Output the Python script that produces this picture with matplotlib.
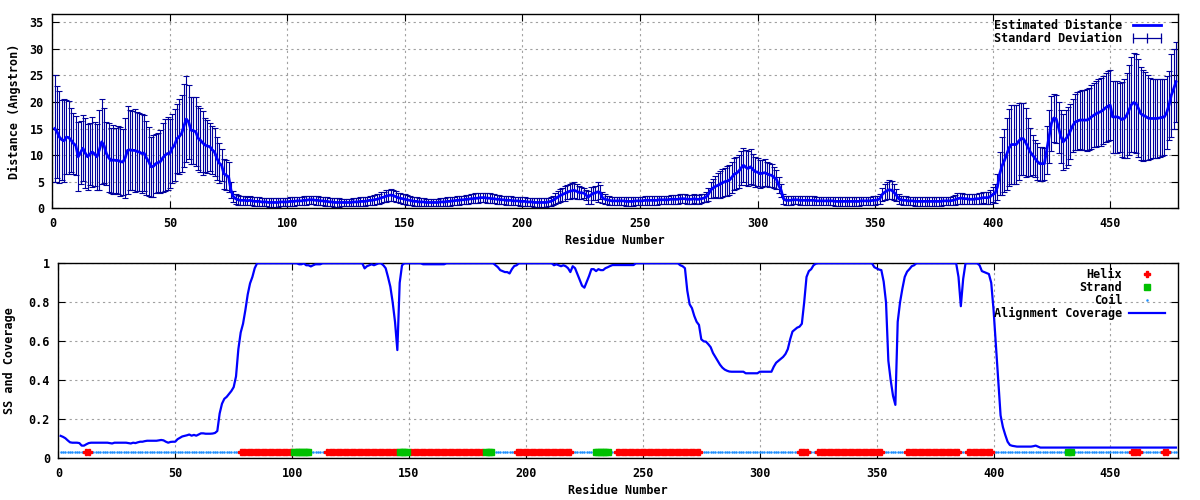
import numpy as np
import matplotlib
matplotlib.use("Agg")
import matplotlib.pyplot as plt
from matplotlib.lines import Line2D

# estimated distance per residue (1..478)
distance = [
    15.0, 14.4, 13.4, 12.9, 12.7, 13.4, 13.3, 12.8, 12.2, 11.8,
    9.7, 10.5, 11.3, 10.4, 9.7, 10.2, 10.6, 10.2, 9.7, 11.0,
    12.5, 11.8, 10.3, 9.5, 9.0, 9.1, 9.0, 9.0, 8.8, 8.7,
    9.5, 10.9, 11.0, 10.9, 10.9, 10.7, 10.6, 10.3, 10.4, 9.5,
    8.8, 7.8, 7.9, 8.4, 8.6, 8.8, 9.5, 10.0, 10.3, 10.3,
    11.3, 11.9, 13.1, 13.5, 14.1, 15.5, 16.8, 16.2, 14.7, 14.6,
    14.4, 13.2, 12.8, 12.3, 11.9, 11.7, 11.6, 11.0, 10.6, 9.4,
    8.5, 8.1, 6.5, 6.2, 5.9, 3.4, 2.2, 1.8, 1.6, 1.5,
    1.5, 1.5, 1.4, 1.5, 1.4, 1.3, 1.3, 1.3, 1.2, 1.2,
    1.2, 1.1, 1.1, 1.1, 1.1, 1.1, 1.2, 1.2, 1.2, 1.2,
    1.3, 1.3, 1.3, 1.4, 1.4, 1.4, 1.5, 1.5, 1.6, 1.6,
    1.6, 1.5, 1.5, 1.4, 1.4, 1.3, 1.3, 1.2, 1.2, 1.1,
    1.1, 1.1, 1.1, 1.1, 1.1, 1.1, 1.1, 1.2, 1.2, 1.2,
    1.3, 1.3, 1.3, 1.4, 1.5, 1.5, 1.6, 1.7, 1.8, 2.0,
    2.1, 2.3, 2.4, 2.5, 2.4, 2.2, 2.0, 1.9, 1.8, 1.7,
    1.6, 1.5, 1.4, 1.3, 1.3, 1.2, 1.2, 1.2, 1.1, 1.1,
    1.1, 1.1, 1.1, 1.1, 1.2, 1.2, 1.2, 1.3, 1.3, 1.4,
    1.4, 1.5, 1.5, 1.6, 1.6, 1.7, 1.7, 1.8, 1.8, 1.9,
    1.9, 2.0, 2.0, 2.0, 1.9, 1.9, 1.8, 1.8, 1.7, 1.7,
    1.6, 1.6, 1.5, 1.5, 1.5, 1.4, 1.4, 1.4, 1.3, 1.3,
    1.3, 1.2, 1.2, 1.2, 1.1, 1.1, 1.1, 1.1, 1.1, 1.1,
    1.2, 1.3, 1.5, 1.8, 2.1, 2.4, 2.6, 2.8, 3.0, 3.2,
    3.3, 3.4, 3.2, 3.0, 2.9, 2.9, 2.5, 2.1, 2.5, 2.8,
    2.9, 3.1, 3.0, 2.0, 1.7, 1.6, 1.5, 1.4, 1.4, 1.4,
    1.4, 1.4, 1.4, 1.3, 1.3, 1.3, 1.3, 1.4, 1.4, 1.4,
    1.4, 1.5, 1.5, 1.5, 1.5, 1.5, 1.5, 1.6, 1.6, 1.6,
    1.6, 1.6, 1.7, 1.7, 1.7, 1.7, 1.8, 1.8, 1.8, 1.7,
    1.7, 1.7, 1.8, 1.7, 1.7, 1.8, 1.9, 2.1, 2.6, 3.4,
    3.8, 4.1, 4.3, 4.5, 4.8, 5.0, 5.1, 5.3, 5.8, 6.4,
    6.6, 7.0, 7.6, 8.1, 7.7, 7.5, 7.8, 7.3, 6.9, 6.8,
    6.5, 6.6, 6.7, 6.5, 6.3, 6.2, 5.8, 5.5, 4.3, 3.4,
    1.8, 1.5, 1.5, 1.5, 1.6, 1.6, 1.6, 1.5, 1.5, 1.5,
    1.5, 1.5, 1.5, 1.5, 1.4, 1.4, 1.4, 1.4, 1.4, 1.4,
    1.4, 1.4, 1.3, 1.3, 1.3, 1.3, 1.3, 1.3, 1.3, 1.3,
    1.3, 1.3, 1.3, 1.4, 1.4, 1.4, 1.4, 1.4, 1.5, 1.5,
    1.6, 1.8, 2.6, 3.0, 3.3, 3.5, 3.4, 3.0, 2.5, 1.8,
    1.6, 1.5, 1.5, 1.4, 1.4, 1.4, 1.3, 1.3, 1.3, 1.3,
    1.3, 1.3, 1.3, 1.3, 1.3, 1.3, 1.3, 1.3, 1.4, 1.4,
    1.4, 1.4, 1.5, 1.6, 1.8, 1.9, 1.9, 1.8, 1.8, 1.7,
    1.7, 1.7, 1.8, 1.8, 1.9, 2.0, 2.0, 2.0, 2.2, 2.6,
    2.8, 4.0, 6.5, 8.0, 9.0, 10.2, 11.4, 12.0, 12.0, 12.0,
    12.6, 13.1, 13.1, 12.4, 11.5, 10.6, 10.0, 9.4, 8.8, 8.4,
    8.4, 8.4, 11.0, 13.5, 16.0, 17.0, 16.8, 15.2, 13.5, 12.5,
    13.0, 13.6, 14.5, 15.5, 16.2, 16.4, 16.6, 16.6, 16.6, 16.6,
    16.8, 17.2, 17.5, 17.8, 18.0, 18.2, 18.5, 18.9, 19.2, 19.4,
    17.2, 17.2, 17.2, 17.0, 16.7, 16.9, 17.5, 18.5, 19.5, 19.9,
    19.7, 18.8, 17.8, 17.5, 17.3, 17.0, 16.9, 16.9, 16.9, 16.9,
    17.0, 17.1, 17.2, 18.0, 19.4, 21.3, 22.5, 23.8,
]

# standard deviation per residue
std_dev = [
    10.0, 8.7, 8.7, 7.5, 7.8, 7.0, 6.8, 6.0, 5.8, 5.5,
    6.5, 6.0, 6.2, 6.5, 6.2, 5.8, 6.5, 6.0, 6.2, 7.5,
    8.0, 7.0, 6.0, 6.5, 6.2, 6.5, 6.2, 6.4, 6.5, 6.2,
    7.5, 8.3, 7.5, 7.5, 7.8, 7.4, 7.3, 7.5, 7.2, 7.0,
    6.5, 5.7, 5.8, 5.5, 5.5, 6.0, 6.5, 6.8, 6.8, 6.5,
    6.5, 6.7, 6.5, 7.0, 7.2, 7.8, 8.0, 7.0, 6.3, 6.3,
    6.5, 6.0, 6.0, 6.0, 5.0, 5.0, 4.5, 4.5, 4.5, 4.0,
    3.8, 3.0, 2.8, 2.8, 2.8, 1.5, 1.0, 0.9, 0.9, 0.9,
    0.9, 0.9, 0.8, 0.9, 0.8, 0.8, 0.8, 0.8, 0.8, 0.8,
    0.8, 0.8, 0.8, 0.8, 0.8, 0.8, 0.8, 0.8, 0.8, 0.8,
    0.8, 0.8, 0.8, 0.8, 0.8, 0.8, 0.8, 0.8, 0.8, 0.8,
    0.8, 0.8, 0.8, 0.8, 0.8, 0.8, 0.8, 0.8, 0.8, 0.8,
    0.8, 0.8, 0.7, 0.7, 0.7, 0.7, 0.7, 0.7, 0.8, 0.8,
    0.8, 0.8, 0.8, 0.8, 0.8, 0.8, 0.9, 0.9, 0.9, 1.0,
    1.0, 1.1, 1.1, 1.1, 1.0, 1.0, 0.9, 0.9, 0.9, 0.9,
    0.9, 0.8, 0.8, 0.8, 0.8, 0.8, 0.7, 0.7, 0.7, 0.7,
    0.7, 0.7, 0.7, 0.7, 0.7, 0.7, 0.7, 0.8, 0.8, 0.8,
    0.8, 0.8, 0.8, 0.8, 0.8, 0.8, 0.8, 0.8, 0.8, 0.9,
    0.9, 0.9, 0.9, 0.9, 0.9, 0.9, 0.8, 0.8, 0.8, 0.8,
    0.8, 0.8, 0.8, 0.8, 0.8, 0.8, 0.8, 0.8, 0.8, 0.8,
    0.8, 0.8, 0.8, 0.8, 0.8, 0.8, 0.8, 0.8, 0.8, 0.8,
    0.8, 0.8, 0.9, 1.0, 1.1, 1.2, 1.3, 1.4, 1.3, 1.4,
    1.4, 1.5, 1.4, 1.2, 1.2, 1.0, 1.0, 1.2, 1.6, 1.3,
    1.3, 1.9, 1.3, 1.0, 0.9, 0.8, 0.8, 0.8, 0.8, 0.8,
    0.8, 0.8, 0.8, 0.8, 0.8, 0.8, 0.8, 0.8, 0.8, 0.8,
    0.8, 0.8, 0.8, 0.8, 0.8, 0.8, 0.8, 0.8, 0.8, 0.8,
    0.8, 0.8, 0.8, 0.8, 0.8, 0.8, 0.8, 0.8, 0.8, 0.8,
    0.8, 0.8, 0.8, 0.8, 0.8, 0.8, 0.8, 0.9, 1.2, 1.5,
    1.8, 2.0, 2.3, 2.5, 2.6, 2.6, 2.8, 2.8, 2.9, 3.0,
    3.0, 3.1, 3.2, 3.2, 3.3, 3.3, 3.3, 3.0, 2.8, 2.6,
    2.6, 2.5, 2.5, 2.3, 2.2, 2.2, 2.0, 1.8, 1.5, 1.2,
    0.9, 0.8, 0.8, 0.8, 0.8, 0.8, 0.8, 0.8, 0.8, 0.8,
    0.8, 0.8, 0.8, 0.8, 0.8, 0.8, 0.8, 0.8, 0.8, 0.8,
    0.8, 0.8, 0.8, 0.8, 0.8, 0.8, 0.8, 0.8, 0.8, 0.8,
    0.8, 0.8, 0.8, 0.8, 0.8, 0.8, 0.8, 0.8, 0.8, 0.8,
    0.8, 0.9, 1.2, 1.5, 1.6, 1.8, 1.7, 1.5, 1.2, 0.9,
    0.8, 0.8, 0.8, 0.8, 0.8, 0.8, 0.8, 0.8, 0.8, 0.8,
    0.8, 0.8, 0.8, 0.8, 0.8, 0.8, 0.8, 0.8, 0.8, 0.8,
    0.8, 0.8, 0.9, 0.9, 1.0, 1.0, 1.0, 0.9, 0.9, 0.9,
    0.9, 0.9, 0.9, 1.0, 1.0, 1.0, 1.1, 1.1, 1.3, 1.5,
    1.8, 2.5, 4.0, 5.5, 6.0, 6.8, 7.2, 7.5, 7.4, 7.5,
    7.2, 6.8, 6.8, 6.5, 5.5, 4.5, 3.8, 3.5, 3.5, 3.2,
    3.2, 3.0, 4.5, 5.0, 5.2, 4.5, 4.5, 4.8, 5.0, 5.3,
    5.5, 5.5, 5.2, 5.0, 5.3, 5.4, 5.5, 5.6, 5.6, 5.8,
    5.8, 6.0, 6.0, 6.2, 6.3, 6.4, 6.4, 6.5, 6.6, 6.6,
    6.8, 6.8, 6.8, 6.5, 7.0, 7.5, 8.0, 8.5, 9.0, 9.3,
    9.3, 9.2, 8.8, 8.6, 8.3, 8.0, 7.7, 7.5, 7.5, 7.5,
    7.4, 7.3, 7.2, 6.8, 6.5, 7.8, 7.5, 7.5,
]

# alignment coverage per residue
coverage = [
    0.115, 0.110, 0.103, 0.092, 0.082, 0.080, 0.080, 0.080, 0.078, 0.065,
    0.065, 0.072, 0.078, 0.080, 0.080, 0.080, 0.080, 0.080, 0.080, 0.080,
    0.080, 0.078, 0.076, 0.080, 0.080, 0.080, 0.080, 0.080, 0.080, 0.078,
    0.076, 0.080, 0.078, 0.082, 0.085, 0.085, 0.088, 0.090, 0.090, 0.090,
    0.090, 0.090, 0.092, 0.094, 0.092, 0.085, 0.080, 0.084, 0.085, 0.085,
    0.098, 0.105, 0.112, 0.115, 0.118, 0.122, 0.116, 0.120, 0.116, 0.122,
    0.128, 0.128, 0.126, 0.126, 0.126, 0.127, 0.130, 0.140, 0.230, 0.280,
    0.305, 0.315, 0.330, 0.345, 0.365, 0.420, 0.560, 0.645, 0.690, 0.760,
    0.840, 0.897, 0.930, 0.975, 1.000, 1.000, 1.000, 1.000, 1.000, 1.000,
    1.000, 1.000, 1.000, 1.000, 1.000, 1.000, 1.000, 1.000, 1.000, 1.000,
    1.000, 1.000, 0.995, 0.995, 1.000, 0.990, 0.990, 0.984, 0.990, 0.995,
    0.995, 0.995, 1.000, 1.000, 1.000, 1.000, 1.000, 1.000, 1.000, 1.000,
    1.000, 1.000, 1.000, 1.000, 1.000, 1.000, 1.000, 1.000, 1.000, 1.000,
    0.974, 0.985, 0.990, 0.995, 0.990, 0.995, 1.000, 1.000, 0.990, 0.975,
    0.930, 0.880, 0.800, 0.700, 0.555, 0.900, 0.990, 1.000, 1.000, 1.000,
    1.000, 1.000, 1.000, 1.000, 1.000, 0.995, 0.995, 0.995, 0.995, 0.995,
    0.995, 0.995, 0.995, 0.995, 0.995, 1.000, 1.000, 1.000, 1.000, 1.000,
    1.000, 1.000, 1.000, 1.000, 1.000, 1.000, 1.000, 1.000, 1.000, 1.000,
    1.000, 1.000, 1.000, 1.000, 1.000, 1.000, 0.990, 0.980, 0.965, 0.960,
    0.955, 0.955, 0.948, 0.970, 0.986, 0.990, 1.000, 1.000, 1.000, 1.000,
    1.000, 1.000, 1.000, 1.000, 1.000, 1.000, 1.000, 1.000, 1.000, 1.000,
    1.000, 0.990, 0.995, 0.990, 0.985, 0.990, 0.985, 0.975, 0.955, 0.985,
    0.975, 0.945, 0.915, 0.885, 0.875, 0.905, 0.935, 0.970, 0.970, 0.960,
    0.970, 0.965, 0.965, 0.975, 0.980, 0.986, 0.991, 0.991, 0.991, 0.991,
    0.991, 0.991, 0.991, 0.991, 0.991, 0.991, 1.000, 1.000, 1.000, 1.000,
    1.000, 1.000, 1.000, 1.000, 1.000, 1.000, 1.000, 1.000, 1.000, 1.000,
    1.000, 1.000, 1.000, 1.000, 1.000, 0.990, 0.985, 0.975, 0.860, 0.790,
    0.770, 0.730, 0.700, 0.684, 0.610, 0.600, 0.598, 0.585, 0.570, 0.540,
    0.520, 0.500, 0.480, 0.465, 0.455, 0.449, 0.445, 0.444, 0.444, 0.444,
    0.444, 0.444, 0.444, 0.436, 0.436, 0.436, 0.436, 0.436, 0.436, 0.444,
    0.444, 0.444, 0.444, 0.444, 0.444, 0.470, 0.490, 0.500, 0.510, 0.520,
    0.535, 0.560, 0.610, 0.650, 0.660, 0.670, 0.675, 0.690, 0.800, 0.930,
    0.960, 0.970, 0.990, 0.998, 1.000, 1.000, 1.000, 1.000, 1.000, 1.000,
    1.000, 1.000, 1.000, 1.000, 1.000, 1.000, 1.000, 1.000, 1.000, 1.000,
    1.000, 1.000, 1.000, 1.000, 1.000, 1.000, 1.000, 1.000, 0.980, 0.974,
    0.968, 0.965, 0.906, 0.800, 0.500, 0.400, 0.320, 0.274, 0.700, 0.800,
    0.870, 0.930, 0.957, 0.970, 0.985, 0.990, 1.000, 1.000, 1.000, 1.000,
    1.000, 1.000, 1.000, 1.000, 1.000, 1.000, 1.000, 1.000, 1.000, 1.000,
    1.000, 1.000, 1.000, 1.000, 0.930, 0.780, 0.920, 1.000, 1.000, 1.000,
    1.000, 1.000, 1.000, 0.990, 0.960, 0.955, 0.950, 0.945, 0.900, 0.760,
    0.580, 0.400, 0.220, 0.160, 0.120, 0.085, 0.068, 0.064, 0.062, 0.060,
    0.060, 0.060, 0.060, 0.060, 0.060, 0.060, 0.062, 0.065, 0.060, 0.055,
    0.055, 0.055, 0.055, 0.055, 0.055, 0.055, 0.055, 0.055, 0.055, 0.055,
    0.055, 0.055, 0.055, 0.055, 0.055, 0.055, 0.055, 0.055, 0.055, 0.055,
    0.055, 0.055, 0.055, 0.055, 0.055, 0.055, 0.055, 0.055, 0.055, 0.055,
    0.055, 0.055, 0.055, 0.055, 0.055, 0.055, 0.055, 0.055, 0.055, 0.055,
    0.055, 0.055, 0.055, 0.055, 0.055, 0.055, 0.055, 0.055, 0.055, 0.055,
    0.055, 0.055, 0.055, 0.055, 0.055, 0.055, 0.055, 0.055,
]

# secondary structure segments (type, first residue, last residue); rest is coil
ss_segments = [
    ("H", 12, 13), ("H", 78, 100), ("E", 101, 107), ("H", 115, 145),
    ("E", 146, 149), ("H", 151, 181), ("E", 183, 185), ("H", 196, 219),
    ("E", 230, 235), ("H", 239, 274), ("H", 317, 320), ("H", 325, 352),
    ("H", 363, 385), ("H", 389, 399), ("E", 432, 433), ("H", 459, 462),
    ("H", 473, 474),
]
ss_level = 0.03

x_ticks = [0, 50, 100, 150, 200, 250, 300, 350, 400, 450]
top_y_ticks = [0, 5, 10, 15, 20, 25, 30, 35]
bot_y_ticks = [0, 0.2, 0.4, 0.6, 0.8, 1.0]
bot_y_labels = ["0", "0.2", "0.4", "0.6", "0.8", "1"]

residues = np.arange(1, len(distance) + 1)
ss = np.array(["C"] * len(residues))
for kind, a, b in ss_segments:
    ss[a - 1:b] = kind

plt.rcParams['font.family'] = ['DejaVu Sans Mono']
plt.rcParams['font.weight'] = 'bold'
plt.rcParams['font.size'] = 8.5
plt.rcParams['axes.labelweight'] = 'bold'

fig = plt.figure(figsize=(12, 5), dpi=100)
ax1 = fig.add_axes([0.0436, 0.5834, 0.9384, 0.388])
ax2 = fig.add_axes([0.0486, 0.0834, 0.9333, 0.39])

grid_kw = dict(color='#a0a0a0', linestyle=(0, (2, 3)), linewidth=0.8)

# top: distance with error bars
ax1.errorbar(residues, distance, yerr=std_dev, fmt='none', ecolor='#00009c',
             elinewidth=0.8, capsize=2.2, capthick=0.8, zorder=2)
ax1.plot(residues, distance, color='#0000ff', lw=2, zorder=3)
ax1.set_xlim(0, 479)
ax1.set_ylim(0, 36.5)
ax1.set_xticks(x_ticks)
ax1.set_yticks(top_y_ticks)
ax1.grid(True, **grid_kw)
ax1.set_axisbelow(True)
ax1.set_xlabel("Residue Number", labelpad=3)
ax1.set_ylabel("Distance (Angstron)", labelpad=6)
h1 = [Line2D([], [], color='#0000ff', lw=2),
      Line2D([], [], color='#00009c', lw=0.9, marker='|', markersize=7,
             markeredgewidth=0.9)]
ax1.legend(h1, ["Estimated Distance", "Standard Deviation"], loc='upper right',
           bbox_to_anchor=(0.988, 0.975), frameon=False, markerfirst=False,
           numpoints=3, handlelength=3.0, handletextpad=0.6, labelspacing=0.0,
           borderpad=0, borderaxespad=0)

# bottom: secondary structure and coverage
helix = ss == "H"
strand = ss == "E"
coil = ss == "C"
ax2.plot(residues[coil], np.full(coil.sum(), ss_level), ls='none', marker='.',
         markersize=1.6, color='#1e8fff', label="Coil", zorder=2)
ax2.plot(residues[helix], np.full(helix.sum(), ss_level), ls='none', marker='P',
         markersize=5, color='#ff0000', label="Helix", zorder=3)
ax2.plot(residues[strand], np.full(strand.sum(), ss_level), ls='none', marker='s',
         markersize=4.8, color='#00c000', label="Strand", zorder=3)
ax2.plot(residues, coverage, color='#0000ff', lw=1.6, label="Alignment Coverage", zorder=4)
ax2.set_xlim(0, 479)
ax2.set_ylim(0, 1)
ax2.set_xticks(x_ticks)
ax2.set_yticks(bot_y_ticks)
ax2.set_yticklabels(bot_y_labels)
ax2.grid(True, **grid_kw)
ax2.set_axisbelow(True)
ax2.set_xlabel("Residue Number", labelpad=3)
ax2.set_ylabel("SS and Coverage", labelpad=9)
hh, ll = ax2.get_legend_handles_labels()
order = [1, 2, 0, 3]
ax2.legend([hh[i] for i in order], [ll[i] for i in order], loc='upper right',
           bbox_to_anchor=(0.988, 0.975), frameon=False, markerfirst=False,
           numpoints=1, handlelength=3.0, handletextpad=0.6, labelspacing=0.0,
           borderpad=0, borderaxespad=0)

for ax in (ax1, ax2):
    ax.tick_params(direction='in', top=True, right=True, length=5, width=0.8, pad=6)
    for sp in ax.spines.values():
        sp.set_linewidth(1.0)

fig.savefig("out.png", dpi=100)
